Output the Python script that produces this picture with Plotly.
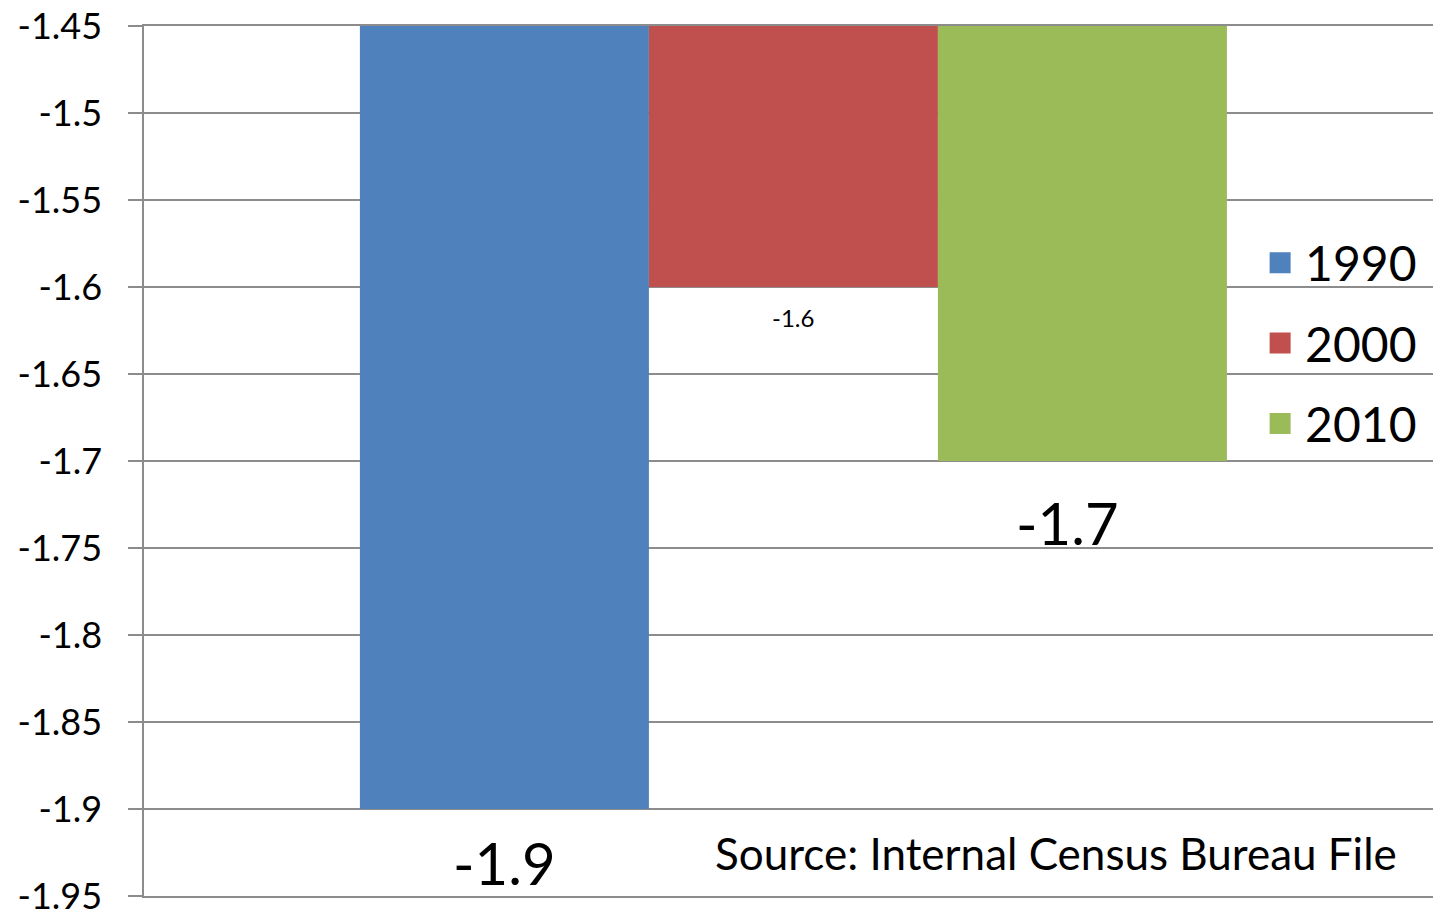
import plotly.graph_objects as go

# values
years = [1990, 2000, 2010]
series_names = ["1990", "2000", "2010"]
values = [-1.9, -1.6, -1.7]
value_labels = ["-1.9", "-1.6", "-1.7"]
colors = ["#4F81BD", "#C0504D", "#9BBB59"]
label_sizes = [58, 24, 58]
label_yshift = [-53, -30, -61]
label_xshift = [0, 0, -15]

tick_vals = [-1.95, -1.9, -1.85, -1.8, -1.75, -1.7, -1.65, -1.6, -1.55, -1.5, -1.45]
tick_text = ["-1.95", "-1.9", "-1.85", "-1.8", "-1.75", "-1.7", "-1.65", "-1.6", "-1.55", "-1.5", "-1.45"]

source_note = "Source: Internal Census Bureau File"

FONT = "Lato"
GRID = "#8C8C8C"

fig = go.Figure()
for yr, name, val, col in zip(years, series_names, values, colors):
    fig.add_trace(go.Bar(
        x=[yr], y=[val], width=10, name=name,
        marker=dict(color=col, line=dict(width=0)),
        showlegend=False, hoverinfo="y",
    ))
    # legend entry with a bigger square than the bar icon
    fig.add_trace(go.Scatter(
        x=[None], y=[None], mode="markers", name=name, legendgroup=name,
        marker=dict(symbol="square", size=16, color=col, line=dict(color=col, width=5)),
    ))

for yr, val, txt, sz, ys, xs in zip(years, values, value_labels, label_sizes, label_yshift, label_xshift):
    fig.add_annotation(
        x=yr, y=val, text=txt, showarrow=False, yanchor="middle", yshift=ys, xshift=xs,
        font=dict(family=FONT, size=sz, color="black"),
    )

fig.add_annotation(
    xref="paper", yref="paper", x=0.974, y=0.0494, xanchor="right", yanchor="middle",
    text=source_note, showarrow=False, font=dict(family=FONT, size=44, color="black"),
)

fig.update_layout(
    width=1425, height=905,
    margin=dict(l=136, r=0, t=18, b=17, autoexpand=False),
    paper_bgcolor="white", plot_bgcolor="white",
    barmode="overlay",
    font=dict(family=FONT, color="black"),
    legend=dict(
        x=0.862, y=0.7713, xanchor="left", yanchor="top",
        bgcolor="rgba(0,0,0,0)", font=dict(family=FONT, size=48, color="black"),
        tracegroupgap=15, itemwidth=40,
    ),
)
# x axis line (mirrored) gives the gridlines at both ends of the value range
fig.update_xaxes(
    range=[1977.53, 2022.13], showticklabels=False, ticks="", showgrid=False,
    zeroline=False, showline=True, mirror=True, linecolor=GRID, linewidth=1.5,
    layer="below traces", automargin=False,
)
fig.update_yaxes(
    range=[-1.95, -1.45], tickvals=tick_vals, ticktext=tick_text,
    tickfont=dict(family=FONT, size=36, color="black"), ticklabeloverflow="allow",
    showgrid=True, gridcolor=GRID, gridwidth=1.5,
    showline=True, linecolor=GRID, linewidth=1.5,
    ticks="outside", ticklen=14, tickcolor=GRID, tickwidth=1.5,
    ticklabelstandoff=19, zeroline=False, automargin=False,
)

fig.write_html("out.html")
